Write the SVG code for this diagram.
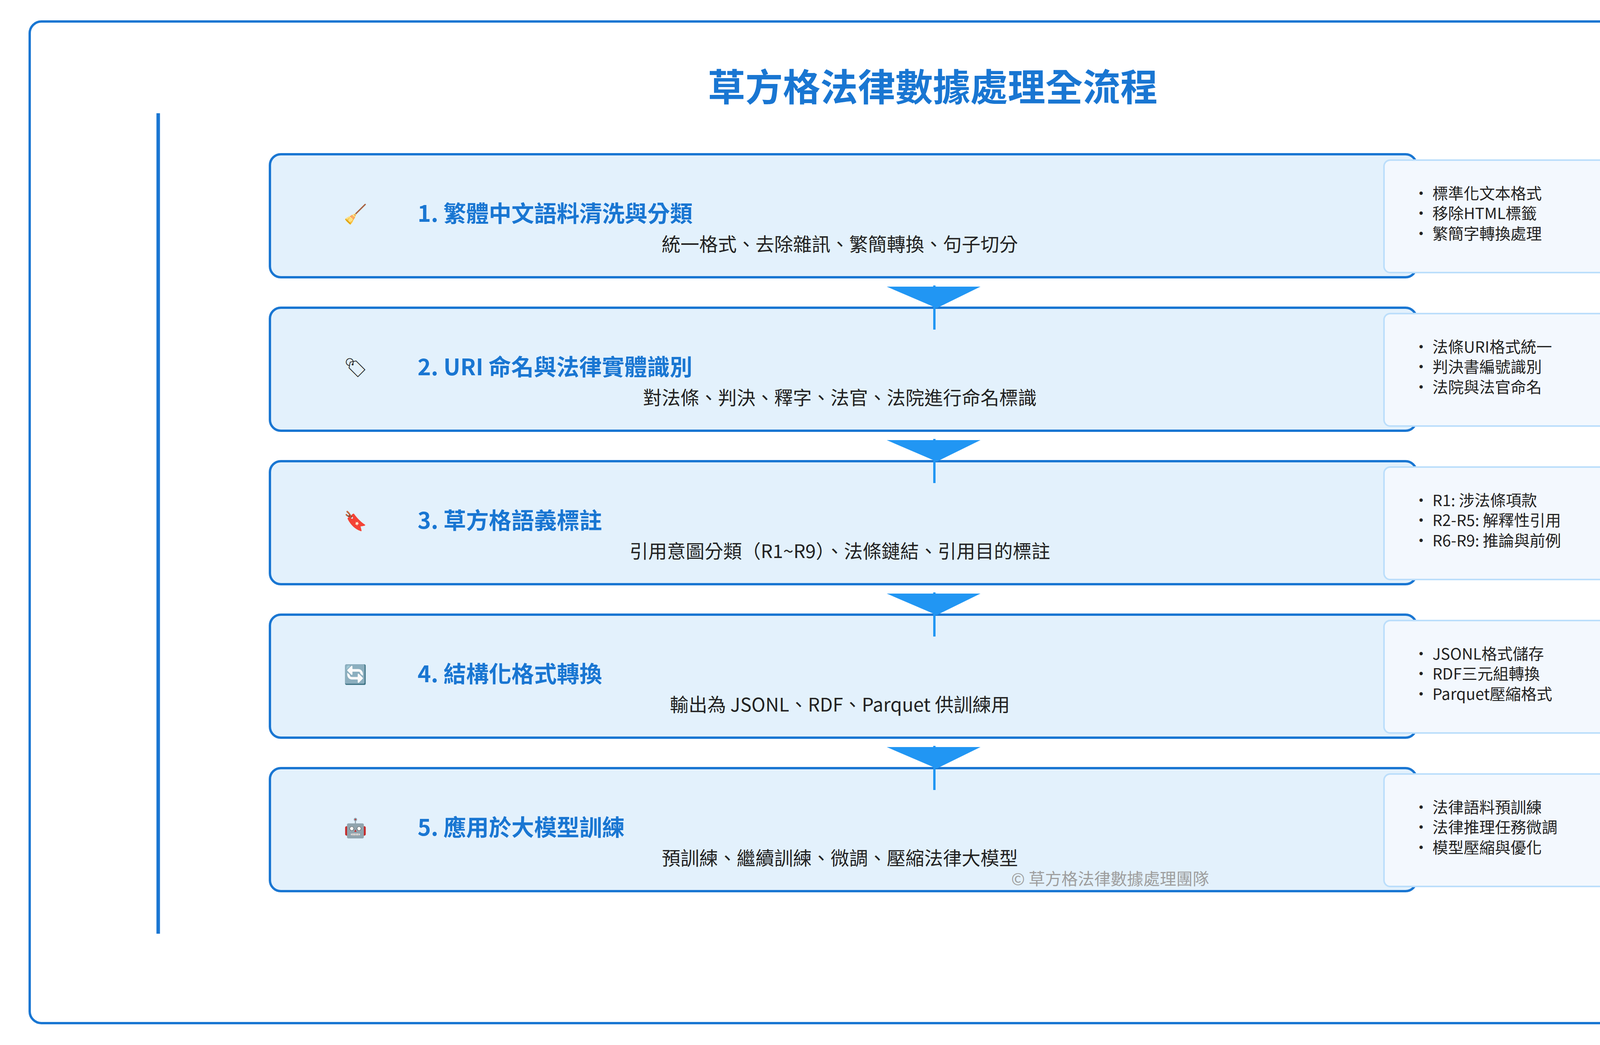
<svg xmlns="http://www.w3.org/2000/svg" width="4776" height="2676" viewBox="0 0 4776 2676">
<style>
text{font-family:"Noto Sans CJK TC","Noto Sans",sans-serif}
.box{fill:#E3F1FC;stroke:#1976D2;stroke-width:6}
.side{fill:#F3F8FE;stroke:#BBDEFB;stroke-width:4}
.t{font-size:58px;font-weight:bold;fill:#1976D2}
.s{font-size:48px;fill:#222;text-anchor:middle}
.b{font-size:40px;fill:#222}
.ic{font-size:48px;fill:#222}
.ar{fill:#2196F3}
.al{stroke:#2196F3;stroke-width:6}
</style>
<rect x="0" y="0" width="4776" height="2676" fill="#fff"/>
<rect x="76" y="55" width="4624" height="2565" rx="30" fill="#fff" stroke="#1976D2" stroke-width="6"/>
<text x="2388" y="258" font-size="96" font-weight="bold" fill="#1976D2" text-anchor="middle">草方格法律數據處理全流程</text>
<line x1="405" y1="290" x2="405" y2="2391" stroke="#1976D2" stroke-width="9"/>
<line x1="4368" y1="290" x2="4368" y2="2391" stroke="#1976D2" stroke-width="9"/>
<g id="n1"><rect class="box" x="691" y="395" width="2935" height="315" rx="28"/><text class="ic" x="880" y="565">🧹</text><text class="t" x="1069" y="568">1. 繁體中文語料清洗與分類</text><text class="s" x="2150" y="643">統一格式、去除雜訊、繁簡轉換、句子切分</text>
<rect class="side" x="3543" y="410" width="755" height="288" rx="16"/><text class="b" x="3618" y="510">• 標準化文本格式</text><text class="b" x="3618" y="561">• 移除HTML標籤</text><text class="b" x="3618" y="613">• 繁簡字轉換處理</text></g>
<g id="n2"><rect class="box" x="691" y="788" width="2935" height="315" rx="28"/><text class="ic" x="880" y="958">🏷</text><text class="t" x="1069" y="961">2. URI 命名與法律實體識別</text><text class="s" x="2150" y="1036">對法條、判決、釋字、法官、法院進行命名標識</text>
<rect class="side" x="3543" y="803" width="755" height="288" rx="16"/><text class="b" x="3618" y="903">• 法條URI格式統一</text><text class="b" x="3618" y="954">• 判決書編號識別</text><text class="b" x="3618" y="1006">• 法院與法官命名</text></g>
<g id="n3"><rect class="box" x="691" y="1181" width="2935" height="315" rx="28"/><text class="ic" x="880" y="1351">🔖</text><text class="t" x="1069" y="1354">3. 草方格語義標註</text><text class="s" x="2150" y="1429">引用意圖分類（R1~R9）、法條鏈結、引用目的標註</text>
<rect class="side" x="3543" y="1196" width="755" height="288" rx="16"/><text class="b" x="3618" y="1296">• R1: 涉法條項款</text><text class="b" x="3618" y="1347">• R2-R5: 解釋性引用</text><text class="b" x="3618" y="1399">• R6-R9: 推論與前例</text></g>
<g id="n4"><rect class="box" x="691" y="1574" width="2935" height="315" rx="28"/><text class="ic" x="880" y="1744">🔄</text><text class="t" x="1069" y="1747">4. 結構化格式轉換</text><text class="s" x="2150" y="1822">輸出為 JSONL、RDF、Parquet 供訓練用</text>
<rect class="side" x="3543" y="1589" width="755" height="288" rx="16"/><text class="b" x="3618" y="1689">• JSONL格式儲存</text><text class="b" x="3618" y="1740">• RDF三元組轉換</text><text class="b" x="3618" y="1792">• Parquet壓縮格式</text></g>
<g id="n5"><rect class="box" x="691" y="1967" width="2935" height="315" rx="28"/><text class="ic" x="880" y="2137">🤖</text><text class="t" x="1069" y="2140">5. 應用於大模型訓練</text><text class="s" x="2150" y="2215">預訓練、繼續訓練、微調、壓縮法律大模型</text>
<text x="2842" y="2266" font-size="42" fill="#9E9E9E" text-anchor="middle">© 草方格法律數據處理團隊</text>
<rect class="side" x="3543" y="1982" width="755" height="288" rx="16"/><text class="b" x="3618" y="2082">• 法律語料預訓練</text><text class="b" x="3618" y="2133">• 法律推理任務微調</text><text class="b" x="3618" y="2185">• 模型壓縮與優化</text></g>
<g id="connectors">
<polygon class="ar" points="2270,734 2510,734 2398,789"/><line class="al" x1="2392" y1="731" x2="2392" y2="844"/>
<polygon class="ar" points="2270,1127 2510,1127 2398,1182"/><line class="al" x1="2392" y1="1124" x2="2392" y2="1237"/>
<polygon class="ar" points="2270,1520 2510,1520 2398,1575"/><line class="al" x1="2392" y1="1517" x2="2392" y2="1630"/>
<polygon class="ar" points="2270,1913 2510,1913 2398,1968"/><line class="al" x1="2392" y1="1910" x2="2392" y2="2023"/>
</g>
</svg>
